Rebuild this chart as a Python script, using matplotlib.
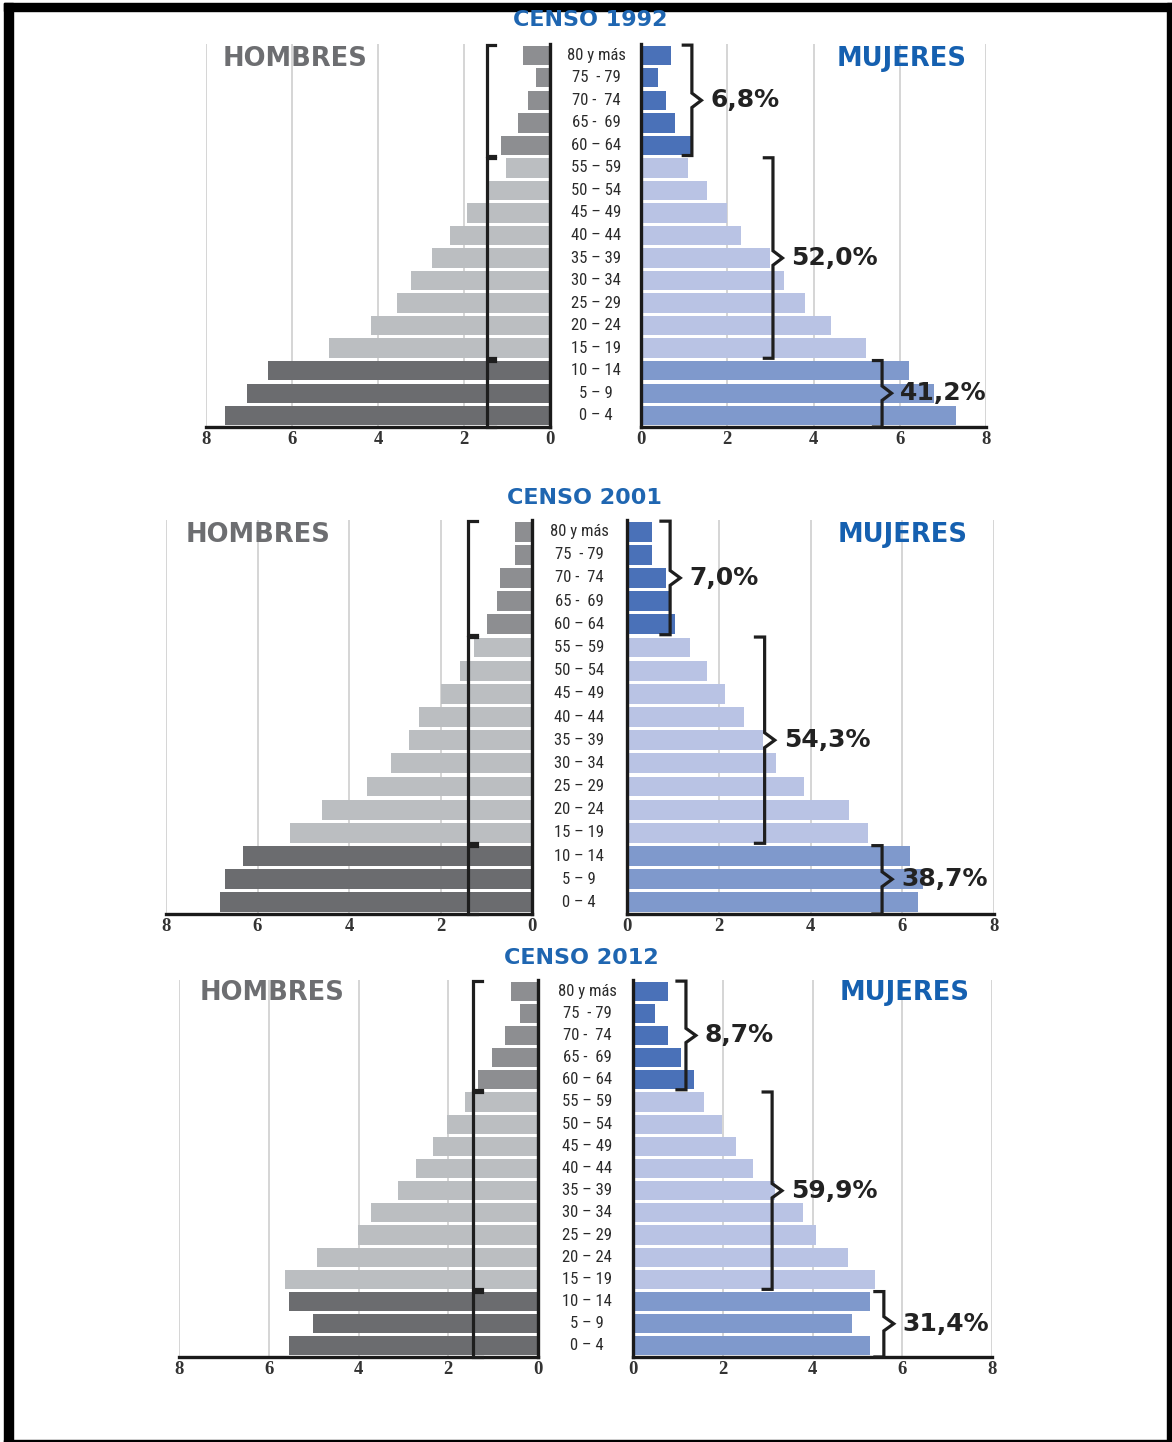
import matplotlib
matplotlib.use("Agg")
import matplotlib.pyplot as plt
from matplotlib import transforms
from matplotlib.patches import Rectangle

# Datos (de 0-4 hacia 80 y más, de abajo hacia arriba)
edades = ["0 – 4", "5 – 9", "10 – 14", "15 – 19", "20 – 24", "25 – 29", "30 – 34",
          "35 – 39", "40 – 44", "45 – 49", "50 – 54", "55 – 59", "60 – 64",
          "65 -  69", "70 -  74", "75  - 79", "80 y más"]

hombres_1992 = [7.56, 7.05, 6.55, 5.15, 4.16, 3.55, 3.23, 2.74, 2.33, 1.93, 1.43, 1.03, 1.13, 0.74, 0.52, 0.33, 0.63]
mujeres_1992 = [7.30, 6.80, 6.21, 5.21, 4.41, 3.81, 3.31, 3.00, 2.32, 2.00, 1.52, 1.09, 1.21, 0.79, 0.59, 0.40, 0.70]

hombres_2001 = [6.81, 6.71, 6.31, 5.29, 4.60, 3.60, 3.09, 2.68, 2.48, 1.99, 1.58, 1.26, 0.99, 0.77, 0.69, 0.37, 0.37]
mujeres_2001 = [6.34, 6.45, 6.16, 5.26, 4.84, 3.85, 3.24, 2.97, 2.55, 2.13, 1.75, 1.37, 1.04, 0.96, 0.84, 0.55, 0.55]

hombres_2012 = [5.55, 5.02, 5.55, 5.63, 4.93, 4.02, 3.72, 3.13, 2.72, 2.33, 2.03, 1.63, 1.33, 1.03, 0.73, 0.41, 0.60]
mujeres_2012 = [5.28, 4.88, 5.28, 5.39, 4.78, 4.08, 3.78, 3.16, 2.67, 2.29, 1.99, 1.58, 1.37, 1.07, 0.77, 0.48, 0.77]

# grupos: (inicio, fin) en índices de edades
grupos = [(0, 2), (3, 11), (12, 16)]   # 0-14, 15-59, 60+
pct_1992 = ["41,2%", "52,0%", "6,8%"]
pct_2001 = ["38,7%", "54,3%", "7,0%"]
pct_2012 = ["31,4%", "59,9%", "8,7%"]

# posiciones de las llaves (en unidades del eje)
llave_izq = [1.47, 1.40, 1.45]
llaves_der_1992 = [5.59, 3.06, 1.18]
llaves_der_2001 = [5.56, 3.00, 0.94]
llaves_der_2012 = [5.59, 3.10, 1.18]

col_h = ["#6b6c6f", "#bbbec1", "#8d8e91"]
col_m = ["#7f99cc", "#b9c3e4", "#4a71b8"]

W, H = 1172, 1442
fig = plt.figure(figsize=(W / 100, H / 100), dpi=100)

# marco negro
fig.add_artist(Rectangle((4 / W, 1 - 11 / H), 1 - 4 / W, 8 / H, transform=fig.transFigure, color="black"))
fig.add_artist(Rectangle((4 / W, 0), 9 / W, 1 - 3 / H, transform=fig.transFigure, color="black"))
fig.add_artist(Rectangle((1167 / W, 0), 5 / W, 1 - 3 / H, transform=fig.transFigure, color="black"))
fig.add_artist(Rectangle((4 / W, 0), 1 - 4 / W, 2 / H, transform=fig.transFigure, color="black"))

# layout de cada censo: izq (x0,x1), der (x0,x1), y_top, y_bot, x etiquetas, titulo (x,y), hombres x, mujeres x, y rótulos
paneles = [
    ("CENSO 1992", hombres_1992, mujeres_1992, pct_1992, llaves_der_1992, llave_izq[0],
     (206, 550), (641, 986), 44, 427, 596, (590, 20), 295, 902, 59),
    ("CENSO 2001", hombres_2001, mujeres_2001, pct_2001, llaves_der_2001, llave_izq[1],
     (166, 532), (627, 994), 520, 914, 579, (584, 498), 258, 903, 535),
    ("CENSO 2012", hombres_2012, mujeres_2012, pct_2012, llaves_der_2012, llave_izq[2],
     (179, 538), (633, 992), 980, 1357, 587, (581, 958), 272, 905, 993),
]

tick_font = dict(family=["Liberation Serif", "DejaVu Serif"], weight="bold", size=13.5)
edad_font = ["Liberation Sans Narrow", "Roboto Condensed", "Liberation Sans", "DejaVu Sans"]
y = list(range(len(edades)))


def colores(pal):
    c = []
    for i in y:
        for g, (a, b) in enumerate(grupos):
            if a <= i <= b:
                c.append(pal[g])
    return c


def estilo(ax, lado):
    ax.set_xlim((8, 0) if lado == "h" else (0, 8))
    ax.set_ylim(-0.5, 16.5)
    ax.set_xticks([0, 2, 4, 6, 8])
    ax.set_xticklabels(["0", "2", "4", "6", "8"], **tick_font)
    ax.set_yticks([])
    ax.tick_params(axis="x", length=0, pad=3, colors="#333333")
    ax.grid(axis="x", color="#d2d2d2", lw=1.3)
    ax.set_axisbelow(True)
    ax.spines["top"].set_visible(False)
    interior = "right" if lado == "h" else "left"
    exterior = "left" if lado == "h" else "right"
    ax.spines[exterior].set_visible(False)
    ax.spines[interior].set_linewidth(2.4)
    ax.spines[interior].set_color("#1a1a1a")
    ax.spines["bottom"].set_linewidth(2.4)
    ax.spines["bottom"].set_color("#1a1a1a")
    ax.patch.set_alpha(0)


for (titulo, hom, muj, pcts, llaves, lx, (lx0, lx1), (rx0, rx1),
     ytop, ybot, xe, (tx, ty), hx, mx, ry) in paneles:
    b = 1 - ybot / H
    h = (ybot - ytop) / H
    axh = fig.add_axes([lx0 / W, b, (lx1 - lx0) / W, h])
    axm = fig.add_axes([rx0 / W, b, (rx1 - rx0) / W, h])

    axh.barh(y, hom, height=0.86, color=colores(col_h), zorder=2)
    axm.barh(y, muj, height=0.86, color=colores(col_m), zorder=2)
    estilo(axh, "h")
    estilo(axm, "m")

    # corchetes izquierdos
    for (a, bb) in grupos:
        top, bot = bb + 0.45, a - 0.45
        if a == 0:
            bot = -0.5
        axh.plot([lx - 0.2, lx, lx, lx - 0.2], [top, top, bot, bot], color="#1e1e1e",
                 lw=2.3, clip_on=False, zorder=4, solid_joinstyle="miter")

    # llaves derechas y porcentajes
    for (a, bb), bx, txt in zip(grupos, llaves, pcts):
        top, bot = bb + 0.45, a - 0.45
        if a == 0:
            bot = -0.5
        mid = (a + bb) / 2
        axm.plot([bx - 0.2, bx, bx, bx + 0.22, bx, bx, bx - 0.2],
                 [top, top, mid + 0.32, mid, mid - 0.32, bot, bot],
                 color="#1e1e1e", lw=2.3, clip_on=False, zorder=4, solid_joinstyle="miter")
        axm.text(bx + 0.42, mid, txt, ha="left", va="center", fontsize=18,
                 fontweight="bold", color="#222222", zorder=5, clip_on=False)

    # etiquetas de edad
    tr = transforms.blended_transform_factory(fig.transFigure, axm.transData)
    for i, e in enumerate(edades):
        fig.text(xe / W, i, e, transform=tr, ha="center", va="center",
                 fontsize=12, color="#2b2b2b", family=edad_font)

    fig.text(tx / W, 1 - ty / H, titulo, ha="center", va="center", fontsize=16,
             fontweight="bold", color="#1f66b1")
    fig.text(hx / W, 1 - ry / H, "HOMBRES", ha="center", va="center", fontsize=18.5,
             fontweight="bold", color="#6d6e71")
    fig.text(mx / W, 1 - ry / H, "MUJERES", ha="center", va="center", fontsize=18.5,
             fontweight="bold", color="#1560b0")

fig.savefig("out.png", dpi=100)
